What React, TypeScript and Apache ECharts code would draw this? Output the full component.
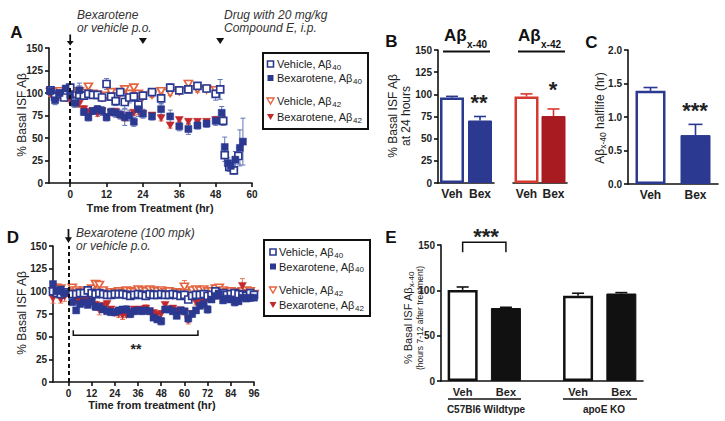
import { useEffect, useRef } from "react";
import * as echarts from "echarts";

const FONT = '"Liberation Sans", Arial, Helvetica, sans-serif';
const BLUE = "#2b3990";
const BLUE_ERR = "#6474b8";
const RED = "#c4282c";
const ORANGE = "#e4643f";
const RED_ERR = "#e47a5c";
const BAR_RED_LINE = "#d5392f";
const BAR_RED_FILL = "#a81b21";
const INK = "#111";
const TXT = "#222";

// ---------- Panel A : [hour, % basal, sem] ----------
const aVeh40 = [
  [-6.5, 103, 3], [-5, 96, 3], [-3.5, 99, 3], [-2, 95, 3], [0, 106, 4], [1.5, 91, 5], [3, 98, 13],
  [4.5, 97, 3], [6, 99, 4], [7.5, 98, 3], [9, 98, 3], [10.5, 95, 4], [12, 110, 6], [13.5, 96, 4],
  [15, 91, 5], [16.5, 101, 4], [18, 90, 7], [19.5, 95, 6], [21, 96, 5], [22.5, 87, 6], [24, 97, 4],
  [27, 101, 4], [30, 94, 6], [33, 106, 4], [36, 103, 3], [39, 104, 4], [42, 108, 3], [45, 105, 4],
  [48, 99, 7], [49.5, 104, 11], [50.5, 69, 5], [51, 31, 7], [52.5, 18, 5], [54, 14, 4], [55.5, 30, 9],
];
const aBex40 = [
  [-6.5, 102, 3], [-5, 92, 5], [-3.5, 100, 4], [-1.5, 105, 3], [0, 98, 4], [1.5, 89, 5], [3, 103, 5],
  [4.5, 79, 4], [6, 73, 4], [7.5, 80, 4], [9, 82, 4], [10.5, 80, 5], [12, 73, 4], [13.5, 79, 4],
  [15, 78, 5], [16.5, 76, 5], [18, 73, 9], [19.5, 75, 6], [21, 68, 5], [22.5, 82, 8], [24, 77, 5],
  [27, 74, 4], [30, 82, 6], [33, 74, 7], [36, 63, 5], [39, 60, 6], [42, 64, 4], [45, 66, 4],
  [48, 69, 5], [50, 78, 7], [51, 40, 11], [52, 22, 6], [53, 19, 6], [54.5, 26, 9], [56, 39, 20], [57, 46, 26],
];
const aVeh42 = [
  [-6.5, 101, 3], [-5, 98, 3], [-3.5, 102, 3], [-1.5, 98, 3], [0, 100, 3], [1.5, 97, 3], [3, 102, 4],
  [4.5, 100, 3], [6, 107, 3], [7.5, 99, 3], [9, 98, 3], [10.5, 95, 3], [12, 97, 3], [13.5, 101, 3],
  [15, 96, 3], [16.5, 100, 3], [18, 104, 3], [19.5, 99, 3], [21, 106, 3], [22.5, 99, 3], [24, 96, 3],
  [27, 98, 3], [30, 102, 3], [33, 100, 3], [36, 102, 3], [39, 110, 4], [42, 104, 3], [45, 104, 3], [48, 103, 3],
];
const aBex42 = [
  [-6.5, 99, 3], [-5, 96, 3], [-3.5, 98, 3], [-1.5, 94, 3], [0, 92, 3], [1.5, 89, 3], [3, 88, 4],
  [4.5, 82, 4], [6, 79, 3], [7.5, 80, 3], [9, 77, 3], [10.5, 80, 3], [12, 73, 3], [13.5, 78, 3],
  [15, 79, 3], [16.5, 75, 3], [18, 72, 3], [19.5, 75, 3], [21, 78, 3], [22.5, 80, 4], [24, 77, 3],
  [27, 75, 3], [30, 72, 3], [33, 64, 3], [36, 70, 3], [39, 68, 3], [42, 68, 3], [45, 68, 3], [48, 70, 3],
];
const aTicks = [0, 12, 24, 36, 48, 60];
const aDrugHours = [24, 49.5];

// ---------- Panel B ----------
const bCats = ["Veh", "Bex"];
const b40 = [96.5, 70.5];
const b40Err = [1.2, 4.5];
const b42 = [97.5, 75.5];
const b42Err = [3, 8];

// ---------- Panel C ----------
const cCats = ["Veh", "Bex"];
const cHalf = [1.39, 0.73];
const cHalfErr = [0.05, 0.16];

// ---------- Panel D ----------
const dHours = [-8, -6, -4, -2, 2, 4, 6, 8, 10, 12, 14, 16, 18, 20, 22, 24, 26, 28, 30, 32, 34, 36, 38, 40, 42, 44, 46, 48, 50,
  52, 54, 56, 58, 60, 62, 64, 66, 68, 70, 72, 74, 76, 78, 80, 82, 84, 86, 88, 90, 92, 94, 96];
const dVeh40 = [100, 98, 97, 99, 97, 97, 98, 98, 101, 98, 97, 98, 97, 96, 96, 97, 97, 97, 96, 95, 96, 97, 96, 95, 97, 96, 96, 97,
  96, 96, 97, 96, 95, 96, 91, 95, 96, 96, 97, 95, 96, 100, 97, 98, 96, 97, 98, 97, 96, 95, 98, 96];
const dVeh40Err = [3, 3, 2, 3, 2, 2, 2, 2, 3, 2, 2, 2, 2, 2, 2, 2, 2, 2, 2, 2, 2, 2, 2, 2, 2, 2, 2, 2,
  2, 2, 2, 2, 2, 2, 3, 2, 2, 2, 2, 2, 2, 3, 2, 2, 2, 2, 2, 2, 2, 2, 2, 2];
const dBex40 = [108, 100, 102, 98, 88, 79, 86, 88, 85, 89, 83, 83, 80, 78, 77, 77, 79, 80, 80, 75, 78, 79, 78, 79, 78, 71, 69, 67,
  80, 80, 78, 73, 79, 78, 70, 75, 79, 84, 86, 80, 91, 95, 97, 90, 92, 91, 88, 89, 93, 92, 93, 93];
const dBex40Err = [3, 3, 3, 3, 2, 3, 2, 3, 3, 3, 4, 3, 3, 2, 3, 3, 3, 3, 4, 4, 3, 3, 3, 3, 3, 3, 3, 4,
  3, 3, 3, 3, 3, 3, 4, 3, 3, 3, 3, 4, 3, 3, 3, 3, 3, 3, 4, 3, 3, 3, 4, 3];
const dVeh42 = [100, 104, 103, 97, 104, 101, 99, 101, 99, 103, 108, 107, 101, 97, 99, 98, 100, 98, 101, 100, 99, 102, 101, 100,
  102, 101, 100, 101, 99, 100, 96, 99, 98, 105, 98, 101, 102, 101, 102, 100, 100, 103, 104, 101, 99, 100, 98, 99, 100, 101, 100, 97];
const dVeh42Err = [4, 4, 3, 3, 3, 3, 3, 3, 3, 3, 4, 4, 3, 3, 3, 3, 3, 3, 3, 3, 3, 3, 3, 3, 3, 3, 3, 3,
  4, 3, 3, 3, 3, 7, 3, 3, 3, 3, 3, 3, 3, 3, 3, 3, 3, 3, 3, 3, 3, 3, 3, 3];
const dBex42 = [92, 97, 91, 94, 96, 90, 89, 91, 92, 88, 85, 79, 84, 86, 80, 76, 75, 73, 74, 77, 80, 79, 80, 81, 78, 76, 74, 75,
  85, 80, 81, 78, 79, 77, 68, 75, 88, 89, 88, 92, 96, 97, 95, 97, 96, 97, 94, 93, 106, 98, 97, 96];
const dBex42Err = [5, 4, 4, 5, 3, 4, 3, 3, 3, 3, 4, 5, 3, 3, 3, 3, 4, 4, 3, 3, 3, 3, 3, 4, 3, 3, 3, 4,
  3, 3, 3, 3, 3, 3, 4, 3, 3, 3, 3, 3, 3, 3, 3, 3, 3, 3, 3, 3, 8, 3, 3, 3];
const dTicks = [0, 12, 24, 36, 48, 60, 72, 84, 96];
const dBracket = [[2.5, 67, 51.5, 57]]; // from hr, to hr, level, tick end

// ---------- Panel E ----------
const eLabels = ["Veh", "Bex", "Veh", "Bex"];
const eGroups = ["C57Bl6 Wildtype", "apoE KO"];
const eVals = [100.5, 80.5, 94, 96.5];
const eErr = [3.2, 0.8, 2.8, 1];

// E layout: 14 equal slots along the axis; bars sit in slots 1, 4, 9, 12
const E_SLOTS = 14;
const E_SLOT_OF = [1, 4, 9, 12];

function errRenderer(color: string, both: boolean, cap: number, lw: number) {
  return (params: any, api: any) => {
    const x = api.value(0);
    const y = api.value(1);
    const e = api.value(2);
    const c = api.coord([x, y]);
    const t = api.coord([x, y + e]);
    const b = both ? api.coord([x, y - e]) : c;
    const st = { stroke: color, lineWidth: lw };
    const children: any[] = [
      { type: "line", shape: { x1: t[0], y1: t[1], x2: b[0], y2: b[1] }, style: st },
      { type: "line", shape: { x1: t[0] - cap, y1: t[1], x2: t[0] + cap, y2: t[1] }, style: st },
    ];
    if (both) children.push({ type: "line", shape: { x1: b[0] - cap, y1: b[1], x2: b[0] + cap, y2: b[1] }, style: st });
    return { type: "group", children };
  };
}

function bracketRenderer(params: any, api: any) {
  const x1 = api.value(0);
  const x2 = api.value(1);
  const lv = api.value(2);
  const te = api.value(3);
  const p1 = api.coord([x1, te]);
  const p2 = api.coord([x1, lv]);
  const p3 = api.coord([x2, lv]);
  const p4 = api.coord([x2, te]);
  return {
    type: "polyline",
    shape: { points: [p1, p2, p3, p4] },
    style: { stroke: INK, lineWidth: 1.5, fill: null },
  };
}

const axisLineStyle = { color: INK, width: 1.6 };
const tickLabel = { color: TXT, fontSize: 10, fontWeight: "bold", fontFamily: FONT };

function yVal(gridIndex: number, max: number, interval: number, extra: any = {}) {
  return {
    type: "value", gridIndex, min: 0, max, interval,
    axisLine: { show: true, onZero: false, lineStyle: axisLineStyle },
    axisTick: { show: true, length: 4, lineStyle: axisLineStyle },
    axisLabel: { ...tickLabel, margin: 6 },
    splitLine: { show: false },
    ...extra,
  };
}
function xCat(gridIndex: number, data: string[], fontSize = 12) {
  return {
    type: "category", gridIndex, data,
    axisLine: { show: true, onZero: false, lineStyle: axisLineStyle },
    axisTick: { show: false },
    axisLabel: { ...tickLabel, fontSize, margin: 5, interval: 0 },
    splitLine: { show: false },
  };
}
function xTime(gridIndex: number, min: number, max: number, ticks: number[]) {
  return {
    type: "value", gridIndex, min, max,
    axisLine: { show: true, onZero: false, lineStyle: axisLineStyle },
    axisTick: { show: true, length: 4, customValues: ticks, lineStyle: axisLineStyle },
    axisLabel: { ...tickLabel, margin: 6, customValues: ticks },
    splitLine: { show: false },
  };
}

const ARROW = "path://M3,0 L5,0 L5,7 L8,7 L4,12 L0,7 L3,7 Z";
const DOWN_TRI = "path://M0,0 L10,0 L5,7 Z";

function scatterSet(grid: number, rows: number[][], kind: "sq" | "tri", filled: boolean, color: string, errColor: string, extra: any = {}) {
  return [
    {
      type: "custom", xAxisIndex: grid, yAxisIndex: grid, z: 1, silent: true,
      data: rows, encode: { x: 0, y: 1 },
      renderItem: errRenderer(errColor, true, 2.5, 1),
    },
    {
      type: "scatter", xAxisIndex: grid, yAxisIndex: grid, z: 2, silent: true,
      data: rows.map((r) => [r[0], r[1]]),
      symbol: kind === "sq" ? "rect" : DOWN_TRI,
      symbolSize: kind === "sq" ? 7 : [8, 7],
      itemStyle: filled
        ? { color, borderColor: color, borderWidth: 0.5, opacity: 1 }
        : { color: "#fff", borderColor: color, borderWidth: 1.7, opacity: 1 },
      ...extra,
    },
  ];
}

const zip = (h: number[], v: number[], e: number[]) => h.map((t, i) => [t, v[i], e[i]]);

function legendGroup(x0: number, y0: number, w: number, h: number, rows: number[], mx: number, tx: number) {
  const items = [
    { kind: "sq", filled: false, color: BLUE, text: "Vehicle, Aβ{s|40}" },
    { kind: "sq", filled: true, color: BLUE, text: "Bexarotene, Aβ{s|40}" },
    { kind: "tri", filled: false, color: ORANGE, text: "Vehicle, Aβ{s|42}" },
    { kind: "tri", filled: true, color: RED, text: "Bexarotene, Aβ{s|42}" },
  ];
  const children: any[] = [
    { type: "rect", shape: { x: x0, y: y0, width: w, height: h }, style: { fill: "#fff", stroke: INK, lineWidth: 2 } },
  ];
  items.forEach((it, i) => {
    const y = rows[i];
    if (it.kind === "sq") {
      children.push({
        type: "rect", shape: { x: mx - 3, y: y - 3, width: 6, height: 6 },
        style: it.filled ? { fill: it.color } : { fill: "#fff", stroke: it.color, lineWidth: 1.6 },
      });
    } else {
      children.push({
        type: "polygon", shape: { points: [[mx - 3.5, y - 3], [mx + 3.5, y - 3], [mx, y + 3]] },
        style: it.filled ? { fill: it.color } : { fill: "#fff", stroke: it.color, lineWidth: 1.4 },
      });
    }
    children.push({
      type: "text", x: tx, y,
      style: {
        text: it.text, fontSize: 11, fontFamily: FONT, fill: TXT, align: "left", verticalAlign: "middle",
        lineHeight: 14,
        rich: { s: { fontSize: 8, fontFamily: FONT, fill: TXT, lineHeight: 8, verticalAlign: "bottom" } },
      },
    });
  });
  return { type: "group", children };
}

function txt(x: number, y: number, text: string, o: any = {}) {
  return {
    type: "text", x, y, rotation: o.rotation || 0,
    style: {
      text, fontSize: o.fontSize || 12, fontFamily: FONT, fontWeight: o.fontWeight || "normal",
      fontStyle: o.fontStyle || "normal", fill: o.fill || TXT, align: o.align || "center",
      verticalAlign: "middle", lineHeight: o.lineHeight, rich: o.rich,
    },
  };
}
const subRich = (size: number) => ({ s: { fontSize: size, fontFamily: FONT, fill: TXT, lineHeight: size, verticalAlign: "bottom" } });
const ROT = Math.PI / 2;

const eCategories = Array.from({ length: E_SLOTS }, (_, i) => {
  const k = E_SLOT_OF.indexOf(i);
  return k >= 0 ? eLabels[k] : "";
});

const option: any = {
  animation: false,
  backgroundColor: "#fff",
  grid: [
    { left: 49, top: 48, width: 203, height: 135 },  // A
    { left: 438, top: 50, width: 56, height: 133 },  // B Aβx-40
    { left: 513, top: 50, width: 54, height: 133 },  // B Aβx-42
    { left: 628, top: 50, width: 90, height: 134 },  // C
    { left: 53, top: 246, width: 201, height: 136 }, // D
    { left: 441, top: 245, width: 202, height: 136 }, // E
  ],
  xAxis: [
    xTime(0, -7, 60, aTicks),
    xCat(1, bCats),
    xCat(2, bCats),
    xCat(3, cCats),
    xTime(4, -8, 96, dTicks),
    xCat(5, eCategories, 11),
  ],
  yAxis: [
    yVal(0, 150, 25),
    yVal(1, 150, 25),
    { ...yVal(2, 150, 25), show: false },
    yVal(3, 2, 0.5, { axisLabel: { ...tickLabel, margin: 6, formatter: (v: number) => v.toFixed(1) } }),
    yVal(4, 150, 25),
    yVal(5, 150, 50),
  ],
  series: [
    // ----- A -----
    ...scatterSet(0, aVeh42, "tri", false, ORANGE, RED_ERR),
    ...scatterSet(0, aBex42, "tri", true, RED, RED_ERR),
    ...scatterSet(0, aVeh40, "sq", false, BLUE, BLUE_ERR),
    ...scatterSet(0, aBex40, "sq", true, BLUE, BLUE_ERR, {
      markLine: {
        silent: true, symbol: ["none", "none"], label: { show: false },
        lineStyle: { color: INK, width: 2, type: [4, 3] },
        data: [{ xAxis: 0 }],
      },
      markPoint: {
        silent: true, label: { show: false },
        data: [
          { coord: [0, 150], symbol: ARROW, symbolSize: [7, 11], symbolOffset: [0, -8], itemStyle: { color: INK } },
          ...aDrugHours.map((h) => ({ coord: [h, 150], symbol: DOWN_TRI, symbolSize: [8, 6], symbolOffset: [0, -7], itemStyle: { color: INK } })),
        ],
      },
    }),
    // ----- B -----
    {
      type: "bar", xAxisIndex: 1, yAxisIndex: 1, barWidth: 24, silent: true,
      data: [
        { value: b40[0], itemStyle: { color: "#fff", borderColor: BLUE, borderWidth: 2.5 } },
        { value: b40[1], itemStyle: { color: BLUE, borderColor: BLUE, borderWidth: 1 } },
      ],
    },
    {
      type: "custom", xAxisIndex: 1, yAxisIndex: 1, z: 3, silent: true, encode: { x: 0, y: 1 },
      data: b40.map((v, i) => [i, v, b40Err[i]]), renderItem: errRenderer(BLUE, false, 6, 1.6),
    },
    {
      type: "bar", xAxisIndex: 2, yAxisIndex: 2, barWidth: 24, silent: true,
      data: [
        { value: b42[0], itemStyle: { color: "#fff", borderColor: BAR_RED_LINE, borderWidth: 2.5 } },
        { value: b42[1], itemStyle: { color: BAR_RED_FILL, borderColor: BAR_RED_FILL, borderWidth: 1 } },
      ],
    },
    {
      type: "custom", xAxisIndex: 2, yAxisIndex: 2, z: 3, silent: true, encode: { x: 0, y: 1 },
      data: b42.map((v, i) => [i, v, b42Err[i]]), renderItem: errRenderer(BAR_RED_LINE, false, 6, 1.6),
    },
    // ----- C -----
    {
      type: "bar", xAxisIndex: 3, yAxisIndex: 3, barWidth: 30, silent: true,
      data: [
        { value: cHalf[0], itemStyle: { color: "#fff", borderColor: BLUE, borderWidth: 2.5 } },
        { value: cHalf[1], itemStyle: { color: BLUE, borderColor: BLUE, borderWidth: 1 } },
      ],
    },
    {
      type: "custom", xAxisIndex: 3, yAxisIndex: 3, z: 3, silent: true, encode: { x: 0, y: 1 },
      data: cHalf.map((v, i) => [i, v, cHalfErr[i]]), renderItem: errRenderer(BLUE, false, 7, 1.6),
    },
    // ----- D -----
    ...scatterSet(4, zip(dHours, dVeh42, dVeh42Err), "tri", false, ORANGE, RED_ERR),
    ...scatterSet(4, zip(dHours, dBex42, dBex42Err), "tri", true, RED, RED_ERR),
    ...scatterSet(4, zip(dHours, dVeh40, dVeh40Err), "sq", false, BLUE, BLUE_ERR),
    ...scatterSet(4, zip(dHours, dBex40, dBex40Err), "sq", true, BLUE, BLUE_ERR, {
      markLine: {
        silent: true, symbol: ["none", "none"], label: { show: false },
        lineStyle: { color: INK, width: 2, type: [4, 3] },
        data: [{ xAxis: 0 }],
      },
      markPoint: {
        silent: true, label: { show: false },
        data: [{ coord: [0, 150], symbol: ARROW, symbolSize: [7, 14], symbolOffset: [0, -10], itemStyle: { color: INK } }],
      },
    }),
    {
      type: "custom", xAxisIndex: 4, yAxisIndex: 4, z: 3, silent: true, encode: { x: 0, y: 2 },
      data: dBracket, renderItem: bracketRenderer,
    },
    // ----- E -----
    {
      type: "bar", xAxisIndex: 5, yAxisIndex: 5, barWidth: 30, silent: true,
      data: eCategories.map((_, i) => {
        const k = E_SLOT_OF.indexOf(i);
        if (k < 0) return null;
        const open = k % 2 === 0;
        return {
          value: eVals[k],
          itemStyle: open ? { color: "#fff", borderColor: INK, borderWidth: 2.5 } : { color: INK, borderColor: INK, borderWidth: 1 },
        };
      }),
    },
    {
      type: "custom", xAxisIndex: 5, yAxisIndex: 5, z: 3, silent: true, encode: { x: 0, y: 1 },
      data: eVals.map((v, k) => [E_SLOT_OF[k], v, eErr[k]]), renderItem: errRenderer(INK, false, 6, 1.6),
    },
    {
      type: "custom", xAxisIndex: 5, yAxisIndex: 5, z: 3, silent: true, encode: { x: 0, y: 2 },
      data: [[E_SLOT_OF[0], E_SLOT_OF[1], 153, 142]], renderItem: bracketRenderer,
    },
  ],
  graphic: [
    // panel letters
    txt(16.5, 32, "A", { fontSize: 17, fontWeight: "bold", fill: "#111" }),
    txt(391.5, 41, "B", { fontSize: 17, fontWeight: "bold", fill: "#111" }),
    txt(591.5, 42, "C", { fontSize: 17, fontWeight: "bold", fill: "#111" }),
    txt(13, 237.5, "D", { fontSize: 17, fontWeight: "bold", fill: "#111" }),
    txt(391, 237.5, "E", { fontSize: 17, fontWeight: "bold", fill: "#111" }),
    // A annotations
    txt(77, 15, "Bexarotene", { align: "left", fontStyle: "italic", fill: "#333" }),
    txt(77, 28, "or vehicle p.o.", { align: "left", fontStyle: "italic", fill: "#333" }),
    txt(224, 15, "Drug with 20 mg/kg", { align: "left", fontStyle: "italic", fill: "#333" }),
    txt(224, 28, "Compound E, i.p.", { align: "left", fontStyle: "italic", fill: "#333" }),
    txt(22, 115, "% Basal ISF Aβ", { rotation: ROT }),
    txt(150, 208, "Tme from Treatment (hr)", { fontSize: 11, fontWeight: "bold" }),
    legendGroup(263, 53, 105, 76, [64, 78, 101, 117], 270.5, 277),
    // B
    txt(444, 35, "Aβ", { align: "left", fontSize: 17, fontWeight: "bold", fill: "#111" }),
    txt(467, 44.5, "x-40", { align: "left", fontSize: 10, fontWeight: "bold", fill: "#111" }),
    txt(518, 35, "Aβ", { align: "left", fontSize: 17, fontWeight: "bold", fill: "#111" }),
    txt(541, 44.5, "x-42", { align: "left", fontSize: 10, fontWeight: "bold", fill: "#111" }),
    { type: "line", shape: { x1: 443, y1: 51.5, x2: 490, y2: 51.5 }, style: { stroke: INK, lineWidth: 2.2 } },
    { type: "line", shape: { x1: 518, y1: 51.5, x2: 565, y2: 51.5 }, style: { stroke: INK, lineWidth: 2.2 } },
    txt(393, 116, "% Basal ISF Aβ", { rotation: ROT }),
    txt(406, 116, "at 24 hours", { rotation: ROT }),
    txt(479, 102, "**", { fontSize: 22, fontWeight: "bold" }),
    txt(553, 89.5, "*", { fontSize: 22, fontWeight: "bold" }),
    // C
    txt(600, 118, "Aβ{s|x-40} halflife (hr)", { rotation: ROT, lineHeight: 15, rich: subRich(8.5) }),
    txt(695, 110, "***", { fontSize: 22, fontWeight: "bold" }),
    // D
    txt(76, 233, "Bexarotene (100 mpk)", { align: "left", fontStyle: "italic", fill: "#333" }),
    txt(76, 246, "or vehicle p.o.", { align: "left", fontStyle: "italic", fill: "#333" }),
    txt(22, 313, "% Basal ISF Aβ", { rotation: ROT }),
    txt(152, 405, "Time from treatment (hr)", { fontSize: 11, fontWeight: "bold" }),
    txt(136, 349, "**", { fontSize: 14, fontWeight: "bold" }),
    legendGroup(264, 240, 106, 76, [252, 266.5, 290, 305], 273, 279),
    // E
    txt(408, 318, "% Basal ISF Aβ{s|x-40}", { rotation: ROT, fontSize: 11, lineHeight: 14, rich: subRich(8) }),
    txt(420, 318, "(hours 7-12 after treatment)", { rotation: ROT, fontSize: 8.5 }),
    txt(486, 236, "***", { fontSize: 22, fontWeight: "bold" }),
    { type: "line", shape: { x1: 448, y1: 399, x2: 521, y2: 399 }, style: { stroke: INK, lineWidth: 1.6 } },
    { type: "line", shape: { x1: 563, y1: 399, x2: 637, y2: 399 }, style: { stroke: INK, lineWidth: 1.6 } },
    txt(486, 409, eGroups[0], { fontSize: 10, fontWeight: "bold" }),
    txt(604, 409, eGroups[1], { fontSize: 10, fontWeight: "bold" }),
  ],
};

export default function App() {
  const ref = useRef<HTMLDivElement>(null);
  useEffect(() => {
    if (!ref.current) return;
    const chart = echarts.init(ref.current, undefined, { renderer: "svg", width: 725, height: 421 });
    chart.setOption(option);
    return () => chart.dispose();
  }, []);
  return (
    <div
      ref={ref}
      style={{ position: "absolute", left: 0, top: 0, width: 725, height: 421, background: "#fff" }}
    />
  );
}
